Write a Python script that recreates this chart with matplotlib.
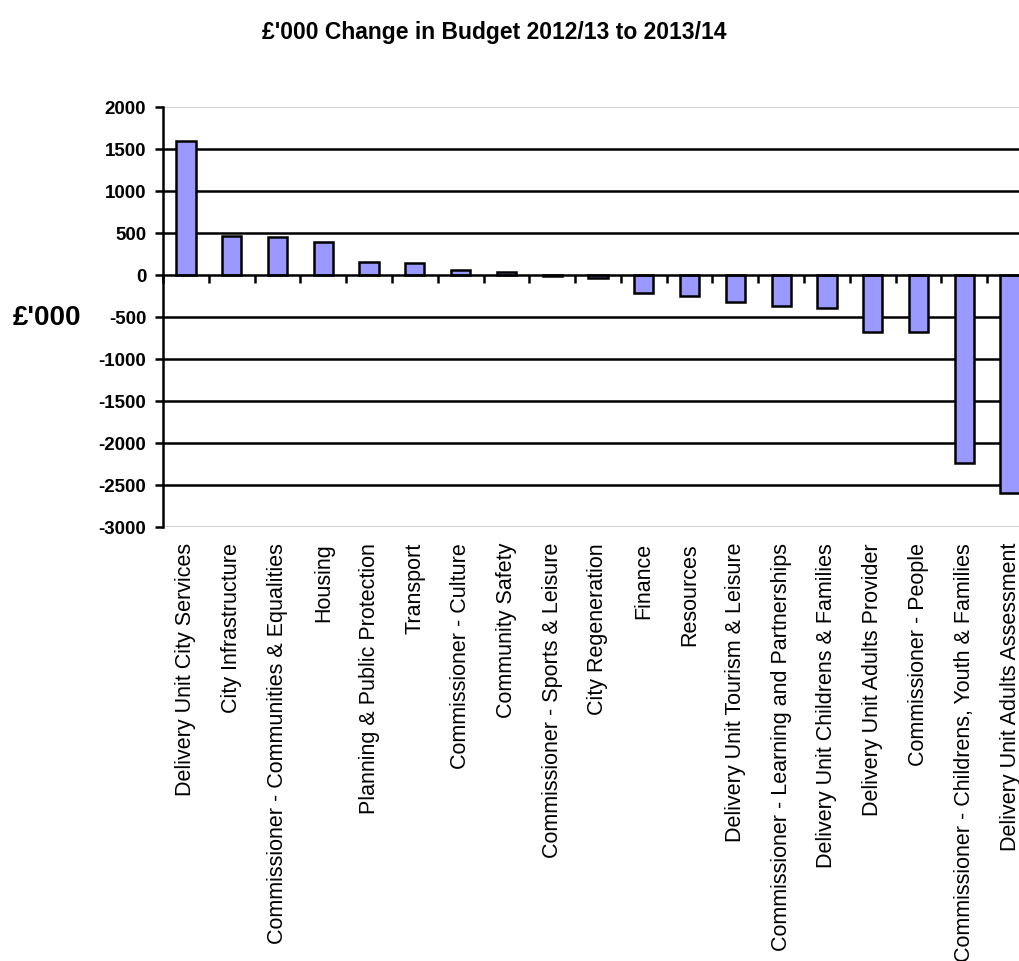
import numpy as np
import matplotlib
matplotlib.use("Agg")
import matplotlib.pyplot as plt
from matplotlib.ticker import FixedLocator, NullFormatter

plt.rcParams['font.family'] = ['Liberation Sans', 'DejaVu Sans']

# budget change per unit, £'000
units = [
    "Delivery Unit City Services",
    "City Infrastructure",
    "Commissioner - Communities & Equalities",
    "Housing",
    "Planning & Public Protection",
    "Transport",
    "Commissioner - Culture",
    "Community Safety",
    "Commissioner - Sports & Leisure",
    "City Regeneration",
    "Finance",
    "Resources",
    "Delivery Unit Tourism & Leisure",
    "Commissioner - Learning and Partnerships",
    "Delivery Unit Childrens & Families",
    "Delivery Unit Adults Provider",
    "Commissioner - People",
    "Commissioner - Childrens, Youth & Families",
    "Delivery Unit Adults Assessment",
]
change = [1600, 468, 457, 397, 159, 139, 60, 32, -10, -40,
          -210, -250, -317, -369, -397, -675, -683, -2242, -2591]
y_ticks = list(range(-3000, 2001, 500))

fig = plt.figure(figsize=(10.19, 9.61), dpi=100)
# plot area runs off the right edge of the canvas
ax = fig.add_axes([163 / 1019, 434 / 961, 870 / 1019, 420 / 961])

x = np.arange(len(units))
ax.bar(x, change, width=0.42, color='#9999ff', edgecolor='black',
       linewidth=1.8, zorder=3)

ax.set_xlim(-0.5, len(units) - 0.5)
ax.set_ylim(-3000, 2000)

# horizontal gridlines
for v in y_ticks:
    if v in (-3000, 2000):
        ax.axhline(v, color='#c8c8c8', lw=1.2, zorder=1)
    elif v != 0:
        ax.axhline(v, color='black', lw=1.8, zorder=1)

for s in ('top', 'right'):
    ax.spines[s].set_visible(False)
ax.spines['left'].set_linewidth(1.8)
ax.spines['bottom'].set_position(('data', 0))
ax.spines['bottom'].set_linewidth(1.8)
ax.spines['bottom'].set_zorder(4)

ax.set_yticks(y_ticks)
ax.set_yticklabels([str(v) for v in y_ticks], fontsize=13.5, fontweight='bold')
ax.tick_params(axis='y', direction='out', length=6, width=1.8, pad=6)

ax.xaxis.set_major_locator(FixedLocator(x))
ax.xaxis.set_major_formatter(NullFormatter())
ax.xaxis.set_minor_locator(FixedLocator(np.arange(-0.5, len(units), 1.0)))
ax.tick_params(axis='x', which='major', length=0)
ax.tick_params(axis='x', which='minor', direction='out', length=6, width=1.8)

# category labels below the plot area
for xi, name in zip(x, units):
    ax.text(xi, -0.038, name, transform=ax.get_xaxis_transform(),
            rotation=90, ha='center', va='top', fontsize=15.5)

fig.text(47 / 1019, 1 - 318 / 961, "£'000", fontsize=20, fontweight='bold',
         ha='center', va='center')
fig.text(494 / 1019, 1 - 33 / 961, "£'000 Change in Budget 2012/13 to 2013/14",
         fontsize=16.5, fontweight='bold', ha='center', va='center')

fig.savefig('out.png', dpi=100)
